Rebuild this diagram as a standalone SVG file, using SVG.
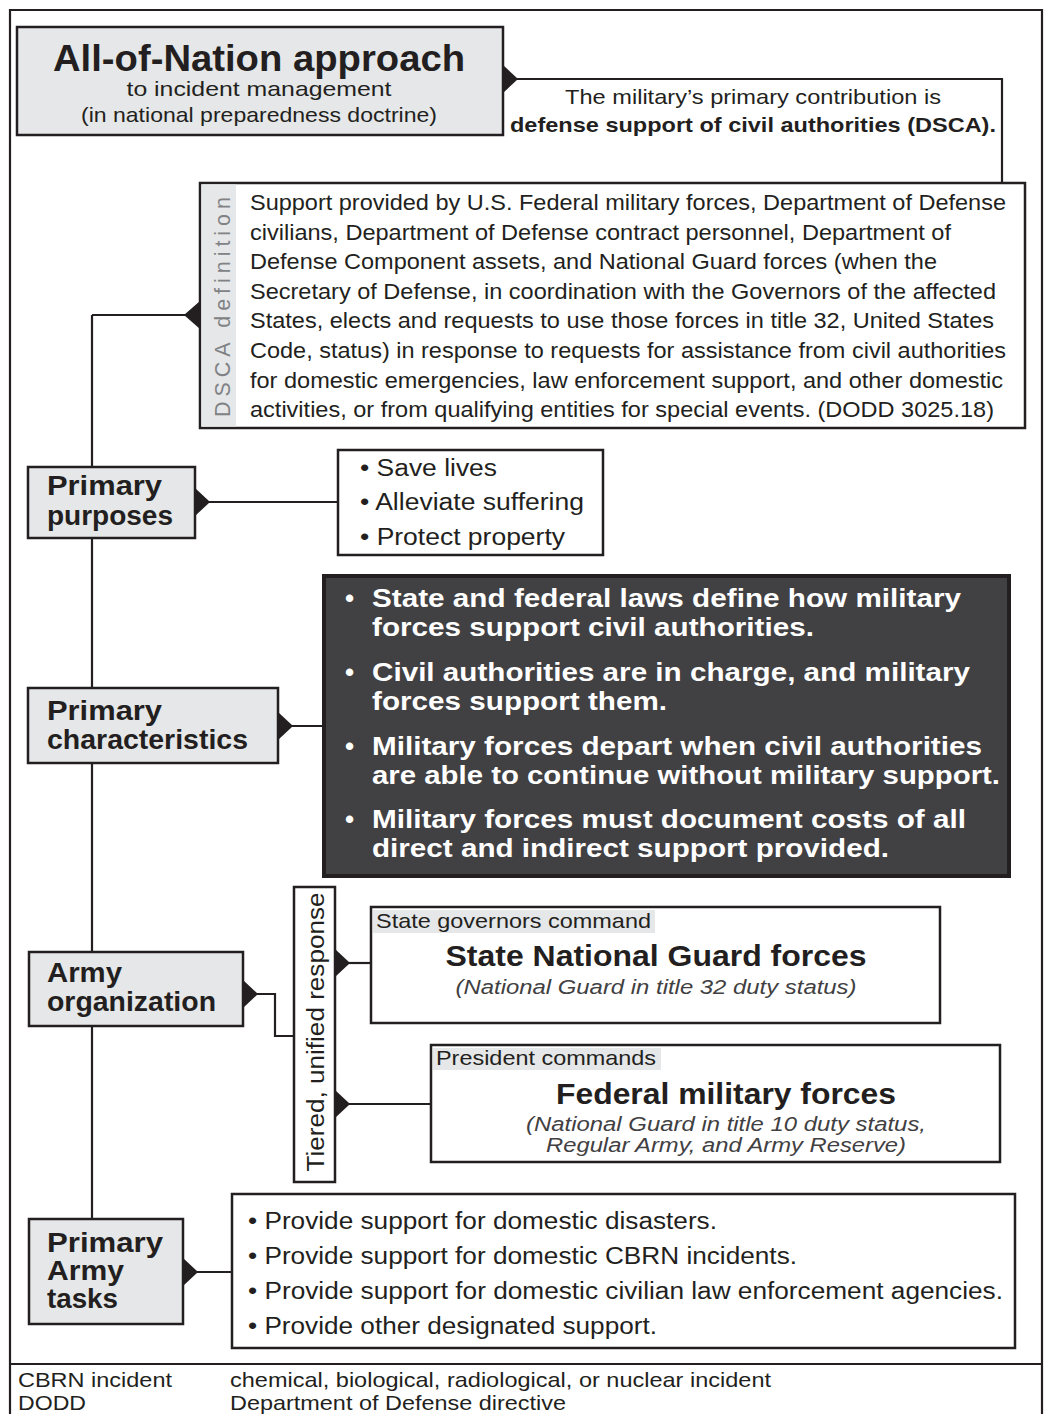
<svg xmlns="http://www.w3.org/2000/svg" width="1047" height="1414" viewBox="0 0 1047 1414">
<style>
text{font-family:"Liberation Sans",Arial,sans-serif;fill:#231f20}
.box{fill:#fff;stroke:#231f20;stroke-width:2.5}
.gbox{fill:#e6e7e8;stroke:#231f20;stroke-width:2.5}
.dark{fill:#414042;stroke:#231f20;stroke-width:4}
.ln{fill:none;stroke:#231f20;stroke-width:2.2}
.tri{fill:#231f20}
.lbl{font-weight:bold;font-size:27px}
.dsca{font-size:21.5px}
.wt{font-weight:bold;font-size:26px;fill:#fff}
.it{font-style:italic;font-size:20px;fill:#414042}
.list{font-size:23px}
.ft{font-size:21px}
</style>
<rect x="0" y="0" width="1047" height="1414" fill="#fff"/>
<g id="frame">
<path class="ln" d="M10,1420 V10 H1042 V1420" stroke-width="2.5"/>
<line class="ln" x1="10" y1="1364" x2="1042" y2="1364"/>
</g>
<g id="connectors">
<line class="ln" x1="92" y1="315" x2="92" y2="1219"/>
<line class="ln" x1="92" y1="315" x2="186" y2="315"/>
<polyline class="ln" points="515,79 1002,79 1002,183"/>
<line class="ln" x1="207" y1="502" x2="338" y2="502"/>
<line class="ln" x1="290" y1="726" x2="323" y2="726"/>
<polyline class="ln" points="255,994 275,994 275,1036 294,1036"/>
<line class="ln" x1="348" y1="963" x2="371" y2="963"/>
<line class="ln" x1="348" y1="1104" x2="431" y2="1104"/>
<line class="ln" x1="196" y1="1272" x2="232" y2="1272"/>
<polygon class="tri" points="503,65 518,79 503,93"/>
<polygon class="tri" points="200,301 184,315 200,329"/>
<polygon class="tri" points="195,488 210,502 195,516"/>
<polygon class="tri" points="278,712 293,726 278,740"/>
<polygon class="tri" points="243,980 258,994 243,1008"/>
<polygon class="tri" points="335,949 350,963 335,977"/>
<polygon class="tri" points="335,1090 350,1104 335,1118"/>
<polygon class="tri" points="183,1258 198,1272 183,1286"/>
</g>
<g id="title">
<rect class="gbox" x="17" y="27" width="486" height="108" stroke-width="3"/>
<text x="259" y="71" text-anchor="middle" font-weight="bold" font-size="36" textLength="412" lengthAdjust="spacingAndGlyphs">All-of-Nation approach</text>
<text x="259" y="96" text-anchor="middle" font-size="21" textLength="265" lengthAdjust="spacingAndGlyphs">to incident management</text>
<text x="259" y="122" text-anchor="middle" font-size="21" textLength="356" lengthAdjust="spacingAndGlyphs">(in national preparedness doctrine)</text>
</g>
<g id="contribution">
<text x="753" y="104" text-anchor="middle" font-size="21" textLength="376" lengthAdjust="spacingAndGlyphs">The military’s primary contribution is</text>
<text x="753" y="132" text-anchor="middle" font-size="21" font-weight="bold" textLength="486" lengthAdjust="spacingAndGlyphs">defense support of civil authorities (DSCA).</text>
</g>
<g id="dsca-definition">
<rect class="box" x="200" y="183" width="825" height="245"/>
<rect x="201.5" y="184.5" width="34.5" height="242" fill="#e6e7e8"/>
<text transform="translate(230,307) rotate(-90)" text-anchor="middle" font-size="21.5" style="fill:#808285" textLength="220">DSCA definition</text>
<text class="dsca" x="250" y="210" textLength="756" lengthAdjust="spacingAndGlyphs">Support provided by U.S. Federal military forces, Department of Defense</text>
<text class="dsca" x="250" y="240" textLength="701" lengthAdjust="spacingAndGlyphs">civilians, Department of Defense contract personnel, Department of</text>
<text class="dsca" x="250" y="269" textLength="687" lengthAdjust="spacingAndGlyphs">Defense Component assets, and National Guard forces (when the</text>
<text class="dsca" x="250" y="299" textLength="746" lengthAdjust="spacingAndGlyphs">Secretary of Defense, in coordination with the Governors of the affected</text>
<text class="dsca" x="250" y="328" textLength="744" lengthAdjust="spacingAndGlyphs">States, elects and requests to use those forces in title 32, United States</text>
<text class="dsca" x="250" y="358" textLength="756" lengthAdjust="spacingAndGlyphs">Code, status) in response to requests for assistance from civil authorities</text>
<text class="dsca" x="250" y="388" textLength="753" lengthAdjust="spacingAndGlyphs">for domestic emergencies, law enforcement support, and other domestic</text>
<text class="dsca" x="250" y="417" textLength="744" lengthAdjust="spacingAndGlyphs">activities, or from qualifying entities for special events. (DODD 3025.18)</text>
</g>
<g id="primary-purposes">
<rect class="gbox" x="28" y="467" width="167" height="71"/>
<text class="lbl" x="47" y="495" textLength="115" lengthAdjust="spacingAndGlyphs">Primary</text>
<text class="lbl" x="47" y="525" textLength="126" lengthAdjust="spacingAndGlyphs">purposes</text>
</g>
<g id="purposes-list">
<rect class="box" x="338" y="450" width="265" height="105"/>
<text class="list" x="360" y="476" textLength="137" lengthAdjust="spacingAndGlyphs">• Save lives</text>
<text class="list" x="360" y="510" textLength="224" lengthAdjust="spacingAndGlyphs">• Alleviate suffering</text>
<text class="list" x="360" y="545" textLength="205" lengthAdjust="spacingAndGlyphs">• Protect property</text>
</g>
<g id="primary-characteristics">
<rect class="gbox" x="28" y="688" width="250" height="75"/>
<text class="lbl" x="47" y="720" textLength="115" lengthAdjust="spacingAndGlyphs">Primary</text>
<text class="lbl" x="47" y="749" textLength="201" lengthAdjust="spacingAndGlyphs">characteristics</text>
</g>
<g id="characteristics-list">
<rect class="dark" x="324" y="576" width="685" height="300"/>
<text class="wt" x="345" y="607">•</text>
<text class="wt" x="372" y="607" textLength="589" lengthAdjust="spacingAndGlyphs">State and federal laws define how military</text>
<text class="wt" x="372" y="636" textLength="442" lengthAdjust="spacingAndGlyphs">forces support civil authorities.</text>
<text class="wt" x="345" y="681">•</text>
<text class="wt" x="372" y="681" textLength="598" lengthAdjust="spacingAndGlyphs">Civil authorities are in charge, and military</text>
<text class="wt" x="372" y="710" textLength="295" lengthAdjust="spacingAndGlyphs">forces support them.</text>
<text class="wt" x="345" y="755">•</text>
<text class="wt" x="372" y="755" textLength="610" lengthAdjust="spacingAndGlyphs">Military forces depart when civil authorities</text>
<text class="wt" x="372" y="784" textLength="628" lengthAdjust="spacingAndGlyphs">are able to continue without military support.</text>
<text class="wt" x="345" y="828">•</text>
<text class="wt" x="372" y="828" textLength="594" lengthAdjust="spacingAndGlyphs">Military forces must document costs of all</text>
<text class="wt" x="372" y="857" textLength="517" lengthAdjust="spacingAndGlyphs">direct and indirect support provided.</text>
</g>
<g id="army-organization">
<rect class="gbox" x="29" y="952" width="214" height="74"/>
<text class="lbl" x="47" y="982" textLength="75" lengthAdjust="spacingAndGlyphs">Army</text>
<text class="lbl" x="47" y="1011" textLength="169" lengthAdjust="spacingAndGlyphs">organization</text>
</g>
<g id="tiered-response">
<rect class="box" x="294" y="887" width="41" height="295"/>
<text transform="translate(324,1032) rotate(-90)" text-anchor="middle" font-size="23" textLength="279" lengthAdjust="spacingAndGlyphs">Tiered, unified response</text>
</g>
<g id="state-forces">
<rect class="box" x="371" y="907" width="569" height="116"/>
<rect x="373" y="910" width="282" height="23" fill="#e6e7e8"/>
<text x="376" y="928" font-size="21" textLength="275" lengthAdjust="spacingAndGlyphs">State governors command</text>
<text x="656" y="966" text-anchor="middle" font-size="30" font-weight="bold" textLength="421" lengthAdjust="spacingAndGlyphs">State National Guard forces</text>
<text class="it" x="656" y="994" text-anchor="middle" textLength="401" lengthAdjust="spacingAndGlyphs">(National Guard in title 32 duty status)</text>
</g>
<g id="federal-forces">
<rect class="box" x="431" y="1045" width="569" height="117"/>
<rect x="433" y="1048" width="228" height="22" fill="#e6e7e8"/>
<text x="436" y="1065" font-size="21" textLength="220" lengthAdjust="spacingAndGlyphs">President commands</text>
<text x="726" y="1104" text-anchor="middle" font-size="30" font-weight="bold" textLength="340" lengthAdjust="spacingAndGlyphs">Federal military forces</text>
<text class="it" x="726" y="1131" text-anchor="middle" textLength="400" lengthAdjust="spacingAndGlyphs">(National Guard in title 10 duty status,</text>
<text class="it" x="726" y="1152" text-anchor="middle" textLength="360" lengthAdjust="spacingAndGlyphs">Regular Army, and Army Reserve)</text>
</g>
<g id="primary-army-tasks">
<rect class="gbox" x="29" y="1219" width="154" height="105"/>
<text class="lbl" x="47" y="1252" textLength="116" lengthAdjust="spacingAndGlyphs">Primary</text>
<text class="lbl" x="47" y="1280" textLength="77" lengthAdjust="spacingAndGlyphs">Army</text>
<text class="lbl" x="47" y="1308" textLength="71" lengthAdjust="spacingAndGlyphs">tasks</text>
</g>
<g id="tasks-list">
<rect class="box" x="232" y="1194" width="783" height="154"/>
<text class="list" x="248" y="1229" textLength="469" lengthAdjust="spacingAndGlyphs">• Provide support for domestic disasters.</text>
<text class="list" x="248" y="1264" textLength="549" lengthAdjust="spacingAndGlyphs">• Provide support for domestic CBRN incidents.</text>
<text class="list" x="248" y="1299" textLength="755" lengthAdjust="spacingAndGlyphs">• Provide support for domestic civilian law enforcement agencies.</text>
<text class="list" x="248" y="1334" textLength="409" lengthAdjust="spacingAndGlyphs">• Provide other designated support.</text>
</g>
<g id="footer">
<text class="ft" x="18" y="1387" textLength="154" lengthAdjust="spacingAndGlyphs">CBRN incident</text>
<text class="ft" x="230" y="1387" textLength="541" lengthAdjust="spacingAndGlyphs">chemical, biological, radiological, or nuclear incident</text>
<text class="ft" x="18" y="1410" textLength="68" lengthAdjust="spacingAndGlyphs">DODD</text>
<text class="ft" x="230" y="1410" textLength="336" lengthAdjust="spacingAndGlyphs">Department of Defense directive</text>
</g>
</svg>
